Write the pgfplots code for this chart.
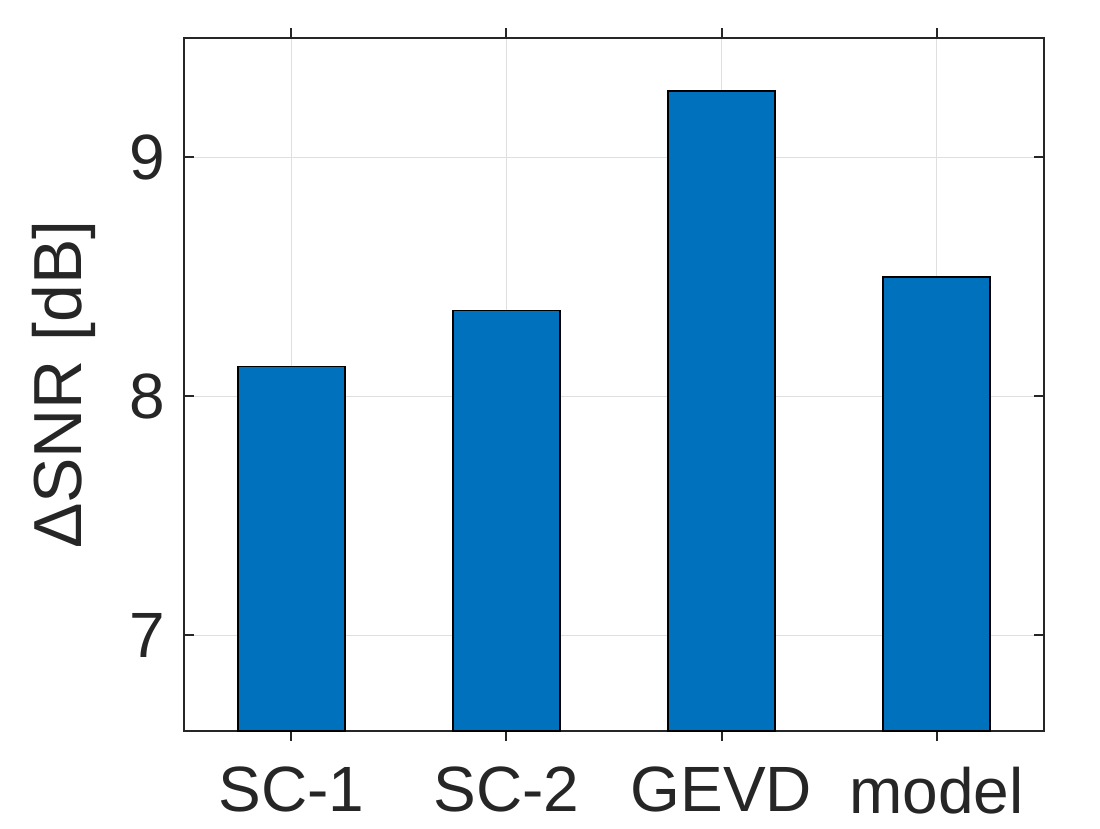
\documentclass[border=0pt]{standalone}
\usepackage{pgfplots}
\pgfplotsset{compat=1.18}
\usepackage{fontspec}
\setmainfont{Liberation Sans}
\definecolor{mblue}{RGB}{0,114,189}
\definecolor{mtext}{RGB}{38,38,38}
\definecolor{mgrid}{RGB}{223,223,223}
\begin{document}
\begin{tikzpicture}
\begin{axis}[
  scale only axis,
  width=215pt, height=173.25pt,
  xmin=0.5, xmax=4.5, ymin=6.6, ymax=9.5,
  xtick={1,2,3,4},
  xticklabels={SC-1,SC-2,GEVD,model},
  ytick={7,8,9},
  tick pos=both, tick align=inside,
  major tick length=2.5pt,
  ymajorgrids, xmajorgrids,
  grid style={mgrid, line width=0.4pt},
  axis line style={mtext, line width=0.5pt},
  every tick/.style={mtext, line width=0.5pt},
  tick label style={font=\fontsize{16}{19}\selectfont, text=mtext},
  /pgf/number format/assume math mode=true,
  xticklabel style={inner sep=0pt, yshift=-6.3pt},
  yticklabel style={xshift=-1.2pt},
  ylabel={ΔSNR [dB]},
  ylabel style={font=\fontsize{17}{20}\selectfont, text=mtext,
    at={([xshift=-18.5pt]rel axis cs:0,0.5)}, anchor=south},
  ybar, bar width=0.5,
]
\addplot[fill=mblue, draw=black, line width=0.4pt] coordinates {(1,8.126) (2,8.36) (3,9.277) (4,8.50)};
\end{axis}
\pgfresetboundingbox
\path ([shift={(-46pt,-24.25pt)}]current axis.south west) rectangle ([shift={(14pt,9.5pt)}]current axis.north east);
\end{tikzpicture}
\end{document}
